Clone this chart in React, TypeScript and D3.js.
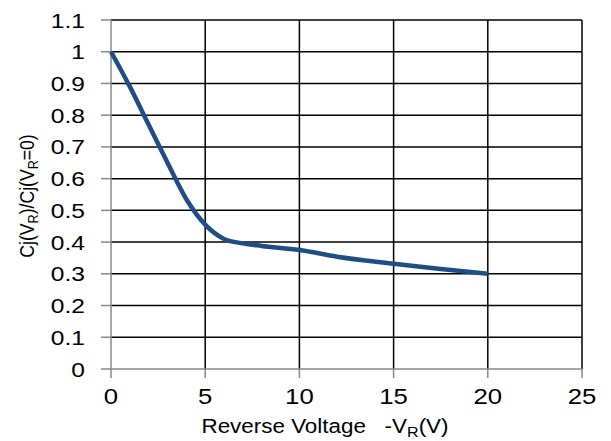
import React from "react";
import * as d3 from "d3";

const voltages = [0, 1, 2, 3, 4, 5, 6, 7, 8, 10, 12, 15, 17.5, 20];
const ratios = [1.0, 0.89, 0.77, 0.65, 0.535, 0.455, 0.41, 0.396, 0.388, 0.375, 0.354, 0.332, 0.315, 0.3];
const xTicks = [0, 5, 10, 15, 20, 25];
const yTicks = [0, 0.1, 0.2, 0.3, 0.4, 0.5, 0.6, 0.7, 0.8, 0.9, 1, 1.1];

export default function App() {
  const W = 611, H = 441;
  const x = d3.scaleLinear().domain([0, 25]).range([111, 582]);
  const y = d3.scaleLinear().domain([0, 1.1]).range([369, 20]);
  const pts = voltages.map((v, i) => [v, ratios[i]] as [number, number]);
  const line = d3.line<[number, number]>().x(d => x(d[0])).y(d => y(d[1])).curve(d3.curveMonotoneX);
  const font = "Liberation Sans, Arial, sans-serif";
  const sx = 1.17;
  return (
    <svg width={W} height={H} style={{ position: "absolute", left: 0, top: 0, background: "#fff" }} fontFamily={font}>
      <rect x={0} y={0} width={W} height={H} fill="#fff" />
      {yTicks.filter(t => t > 0).map(t => (
        <line key={"gy" + t} x1={x(0)} x2={x(25)} y1={y(t)} y2={y(t)} stroke="#000" strokeWidth={1.5} />
      ))}
      {xTicks.filter(t => t > 0).map(t => (
        <line key={"gx" + t} x1={x(t)} x2={x(t)} y1={y(0)} y2={y(1.1)} stroke="#000" strokeWidth={1.5} />
      ))}
      <line x1={x(0)} x2={x(0)} y1={y(0)} y2={y(1.1)} stroke="#888" strokeWidth={1.5} />
      <line x1={x(0)} x2={x(25)} y1={y(0)} y2={y(0)} stroke="#888" strokeWidth={1.5} />
      {yTicks.map(t => (
        <g key={"ty" + t}>
          <line x1={x(0) - 10} x2={x(0)} y1={y(t)} y2={y(t)} stroke="#888" strokeWidth={1.5} />
          <text transform={`translate(85,${y(t)}) scale(${sx},1)`} dy="0.36em" textAnchor="end" fontSize={21} fill="#000">{d3.format("~g")(t)}</text>
        </g>
      ))}
      {xTicks.map(t => (
        <g key={"tx" + t}>
          <line x1={x(t)} x2={x(t)} y1={y(0)} y2={y(0) + 9} stroke="#888" strokeWidth={1.5} />
          <text transform={`translate(${x(t)},404) scale(${sx},1)`} textAnchor="middle" fontSize={22} fill="#000">{t}</text>
        </g>
      ))}
      <path d={line(pts) || ""} fill="none" stroke="#1F4E84" strokeWidth={4.5} strokeLinecap="butt" />
      <text transform="translate(325,433) scale(1.15,1)" textAnchor="middle" fontSize={19.5} fill="#000">
        Reverse Voltage{"\u00a0\u00a0\u00a0"}-V<tspan fontSize={14} dy={4}>R</tspan><tspan dy={-4}>(V)</tspan>
      </text>
      <text transform="translate(34,196) rotate(-90) scale(0.84,1)" textAnchor="middle" fontSize={21} fill="#000">
        Cj(V<tspan fontSize={15} dy={4}>R</tspan><tspan dy={-4}>)/Cj(V</tspan><tspan fontSize={15} dy={4}>R</tspan><tspan dy={-4}>=0)</tspan>
      </text>
    </svg>
  );
}
